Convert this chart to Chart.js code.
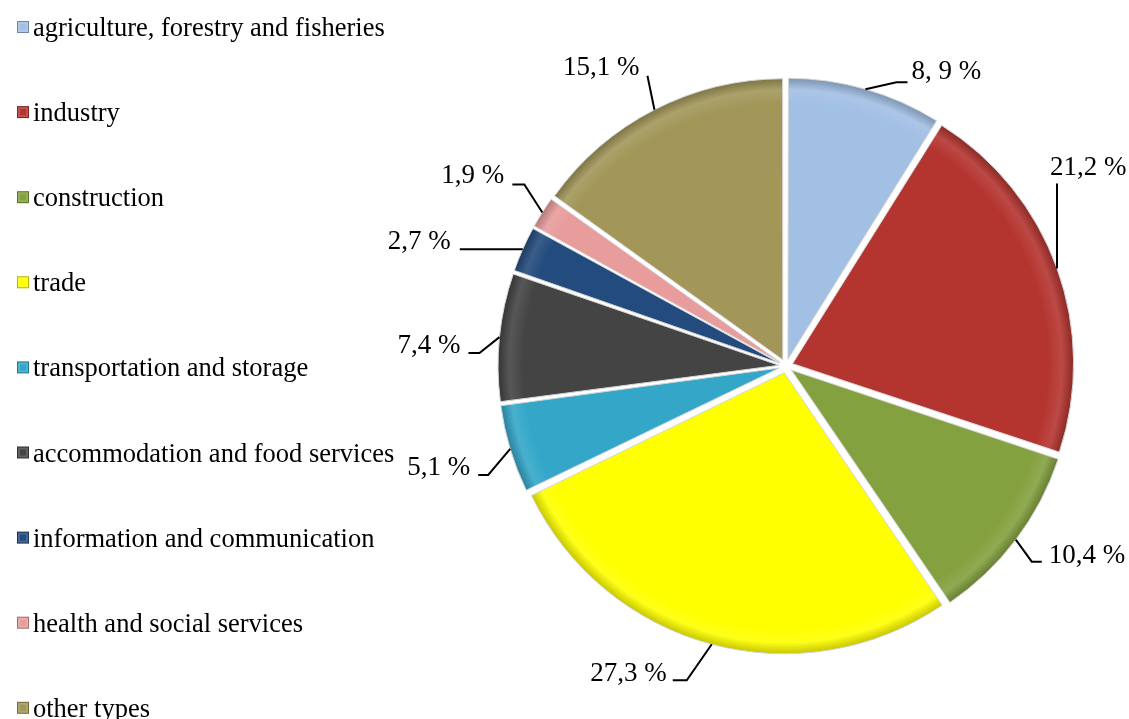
<!DOCTYPE html>
<html>
<head>
<meta charset="utf-8">
<script src="https://cdn.jsdelivr.net/npm/chart.js@4.4.1/dist/chart.umd.min.js"></script>
<style>
  body { margin: 0; background: #fff; }
  #wrap { width: 1129px; height: 719px; }
</style>
</head>
<body>
<div id="wrap"><canvas id="pie-chart" width="1129" height="719"></canvas></div>
<script>
const categories = [
    'agriculture, forestry and fisheries',
    'industry',
    'construction',
    'trade',
    'transportation and storage',
    'accommodation and food services',
    'information and communication',
    'health and social services',
    'other types'
];
const shares = [8.9, 21.2, 10.4, 27.3, 5.1, 7.4, 2.7, 1.9, 15.1];
const shareLabels = ['8, 9 %', '21,2 %', '10,4 %', '27,3 %', '5,1 %', '7,4 %', '2,7 %', '1,9 %', '15,1 %'];
const colors = ['#a2bfe4', '#b43530', '#84a13f', '#ffff00', '#34a7c9', '#444444', '#244b7d', '#e89c9c', '#a29659'];

// leader line bends (relative to slice edge), text side and nudge
const leaders = [
    { path: [[31, -7], [42, -7]], align: 'left', tx: 4, ty: -3 },
    { path: [[0, -85]], align: 'left', tx: -7, ty: -8 },
    { path: [[16, 22], [26, 22]], align: 'left', tx: 7, ty: 1 },
    { path: [[-25, 36], [-39, 36]], align: 'right', tx: -6, ty: 1 },
    { path: [[-22, 26], [-32, 26]], align: 'right', tx: -8, ty: 0 },
    { path: [[-20, 16], [-31, 16]], align: 'right', tx: -8, ty: 0 },
    { path: [[-63, 0]], align: 'right', tx: -9, ty: 0 },
    { path: [[-18, -28], [-30, -28]], align: 'right', tx: -8, ty: -1 },
    { path: [[-7, -34]], align: 'right', tx: -8, ty: -1 }
];

const LABEL_FONT = '27px "Liberation Serif", "Times New Roman", serif';
const LEGEND_FONT = '26.5px "Liberation Serif", "Times New Roman", serif';
const SLICE_SHIFT = 7; // px the slices are pulled out (chart.js draws offset / 4)

function shade(hex, amt) {
    let n = parseInt(hex.slice(1), 16);
    let r = (n >> 16) & 255, g = (n >> 8) & 255, b = n & 255;
    const f = v => Math.max(0, Math.min(255, Math.round(amt < 0 ? v * (1 + amt) : v + (255 - v) * amt)));
    return 'rgb(' + f(r) + ',' + f(g) + ',' + f(b) + ')';
}

function sliceFill(context) {
    const chart = context.chart;
    const area = chart.chartArea;
    const base = colors[context.dataIndex];
    if (!area) return base;
    const cx = (area.left + area.right) / 2;
    const cy = (area.top + area.bottom) / 2;
    const g = chart.ctx.createRadialGradient(cx, cy, 0, cx, cy, 281);
    g.addColorStop(0, base);
    g.addColorStop(0.91, base);
    g.addColorStop(0.96, shade(base, 0.1));
    g.addColorStop(1, shade(base, -0.22));
    return g;
}

// chart.js grows narrow exploded slices a bit; keep every slice the same radius
const evenRadius = {
    id: 'evenRadius',
    beforeDatasetsDraw(chart) {
        const meta = chart.getDatasetMeta(0);
        const R = meta.controller.outerRadius;
        meta.data.forEach(arc => {
            const fix = 1 - Math.sin(Math.min(Math.PI, arc.circumference));
            arc.outerRadius = R - (arc.options.offset / 4) * fix;
        });
    }
};

const labelPlugin = {
    id: 'leaderLabels',
    afterDatasetsDraw(chart) {
        const ctx = chart.ctx;
        const meta = chart.getDatasetMeta(0);
        const R = meta.controller.outerRadius;
        ctx.save();
        ctx.font = LABEL_FONT;
        ctx.fillStyle = '#000';
        ctx.strokeStyle = '#000';
        ctx.lineWidth = 2;
        ctx.textBaseline = 'alphabetic';
        meta.data.forEach((arc, i) => {
            const p = arc.getProps(['x', 'y', 'startAngle', 'endAngle']);
            const mid = (p.startAngle + p.endAngle) / 2;
            const r = R + arc.options.offset / 4;
            const ax = p.x + Math.cos(mid) * r;
            const ay = p.y + Math.sin(mid) * r;
            const L = leaders[i];
            ctx.beginPath();
            ctx.moveTo(ax, ay);
            let lx = ax, ly = ay;
            L.path.forEach(pt => {
                lx = ax + pt[0];
                ly = ay + pt[1];
                ctx.lineTo(lx, ly);
            });
            ctx.stroke();
            ctx.textAlign = L.align;
            ctx.fillText(shareLabels[i], lx + L.tx, ly + L.ty);
        });
        ctx.restore();
    }
};

const legendPlugin = {
    id: 'sideLegend',
    afterDraw(chart) {
        const ctx = chart.ctx;
        ctx.save();
        ctx.font = LEGEND_FONT;
        ctx.textAlign = 'left';
        ctx.textBaseline = 'alphabetic';
        categories.forEach((name, i) => {
            const cy = 27 + i * 85.1;
            const c = colors[i];
            ctx.fillStyle = shade(c, -0.3);
            ctx.fillRect(17, cy - 6, 12, 12);
            ctx.fillStyle = shade(c, 0.15);
            ctx.fillRect(18, cy - 5, 10, 10);
            ctx.fillStyle = c;
            ctx.fillRect(20, cy - 3, 6, 6);
            ctx.fillStyle = '#000';
            ctx.fillText(name, 33, cy + 9);
        });
        ctx.restore();
    }
};

new Chart(document.getElementById('pie-chart'), {
    type: 'pie',
    data: {
        labels: categories,
        datasets: [{
            data: shares,
            backgroundColor: sliceFill,
            borderColor: '#d4d4d4',
            borderWidth: 1,
            offset: SLICE_SHIFT * 4
        }]
    },
    options: {
        responsive: false,
        animation: false,
        radius: 281,
        layout: { padding: { left: 443, right: 0, top: 13, bottom: 0 } },
        plugins: {
            legend: { display: false },
            tooltip: { enabled: false }
        }
    },
    plugins: [evenRadius, labelPlugin, legendPlugin]
});
</script>
</body>
</html>
